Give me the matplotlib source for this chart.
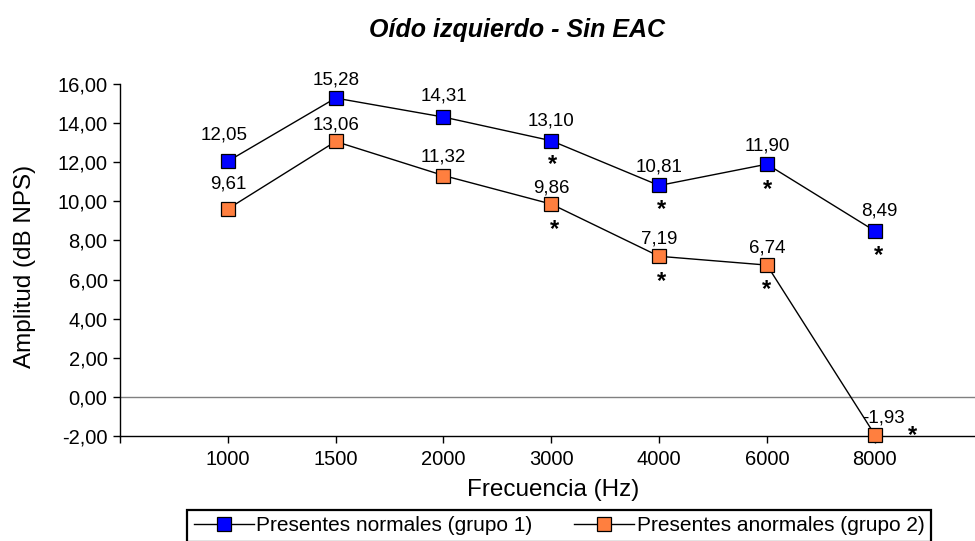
import matplotlib
matplotlib.use("Agg")
import matplotlib.pyplot as plt
from matplotlib.ticker import FuncFormatter, FixedLocator

plt.rcParams['font.family'] = ['Liberation Sans', 'DejaVu Sans']

# ---- data ----
categories = ["1000", "1500", "2000", "3000", "4000", "6000", "8000"]
normales = [12.05, 15.28, 14.31, 13.10, 10.81, 11.90, 8.49]
anormales = [9.61, 13.06, 11.32, 9.86, 7.19, 6.74, -1.93]
star_normales = [False, False, False, True, True, True, True]
star_anormales = [False, False, False, True, True, True, True]
series_names = ["Presentes normales (grupo 1)", "Presentes anormales (grupo 2)"]
title = "Oído izquierdo - Sin EAC"
xlabel = "Frecuencia (Hz)"
ylabel = "Amplitud (dB NPS)"
yticks = [-2, 0, 2, 4, 6, 8, 10, 12, 14, 16]

# ---- style ----
blue = "#0000FF"
orange = "#FF7F3F"
lab_dy_n = [22, 14, 17, 15, 14, 14, 15]
lab_dy_a = [20, 12, 14, 12, 13, 13, 12]
lab_dx_n = [-4, 0, 0, 0, 0, 0, 5]
lab_dx_a = [0, 0, 0, 0, 0, 0, 9]
star_off_n = [None, None, None, (1, -17), (2, -18), (1, -19), (4, -18)]
star_off_a = [None, None, None, (3, -19), (2, -19), (0, -18), (38, 6)]

fig = plt.figure(figsize=(9.75, 5.41), dpi=100)
ax = fig.add_axes([120/975, 1-436/541, 855/975, 352/541])

x = list(range(len(categories)))
ax.axhline(0, color="#808080", lw=1.0, zorder=1)
ax.plot(x, normales, color="black", lw=1.0, marker="s", ms=9.5,
        mfc=blue, mec="black", mew=0.9, label=series_names[0], zorder=3, clip_on=False)
ax.plot(x, anormales, color="black", lw=1.0, marker="s", ms=9.5,
        mfc=orange, mec="black", mew=0.9, label=series_names[1], zorder=3, clip_on=False)

def fmt(v):
    return f"{v:.2f}".replace(".", ",")

for i, v in enumerate(normales):
    ax.annotate(fmt(v), (i, v), xytext=(lab_dx_n[i], lab_dy_n[i]), textcoords="offset pixels",
                ha="center", va="baseline", fontsize=13.5, color="black")
for i, v in enumerate(anormales):
    ax.annotate(fmt(v), (i, v), xytext=(lab_dx_a[i], lab_dy_a[i]), textcoords="offset pixels",
                ha="center", va="baseline", fontsize=13.5, color="black")

for flags, vals, offs in ((star_normales, normales, star_off_n), (star_anormales, anormales, star_off_a)):
    for i, (f, v) in enumerate(zip(flags, vals)):
        if f:
            dx, dy = offs[i]
            ax.annotate("*", (i, v), xytext=(dx, dy - 13), textcoords="offset pixels",
                        ha="center", va="baseline", fontsize=17, fontweight="bold",
                        color="black", annotation_clip=False)

ax.set_xlim(-1, 6.93)
ax.set_ylim(-2, 16)
ax.xaxis.set_major_locator(FixedLocator([-1] + x))
ax.set_xticklabels([""] + categories)
ax.set_yticks(yticks)
ax.yaxis.set_major_formatter(FuncFormatter(lambda v, p: fmt(v)))
ax.tick_params(axis="both", labelsize=14.5, length=5, width=1, color="black", direction="out")
ax.tick_params(axis="y", pad=4)
ax.tick_params(axis="x", pad=5)
for s in ("top", "right"):
    ax.spines[s].set_visible(False)
for s in ("left", "bottom"):
    ax.spines[s].set_linewidth(1.0)
    ax.spines[s].set_color("black")

fig.text(517/975, 1-30/541, title, ha="center", va="center", fontsize=18,
         fontweight="bold", fontstyle="italic")
fig.text(553/975, 1-490/541, xlabel, ha="center", va="center", fontsize=17.5)
fig.text(25/975, 1-266/541, ylabel, ha="center", va="center", fontsize=17.5, rotation=90)

leg = fig.legend(loc="upper center", bbox_to_anchor=(559/975, 1-510/541), ncol=2,
                 fontsize=15, frameon=True, fancybox=False, framealpha=1,
                 edgecolor="black", handlelength=2.9, handletextpad=0.1,
                 columnspacing=2.0, borderpad=0.3, borderaxespad=0)
leg.get_frame().set_linewidth(1.6)

fig.savefig("out.png", dpi=100)
